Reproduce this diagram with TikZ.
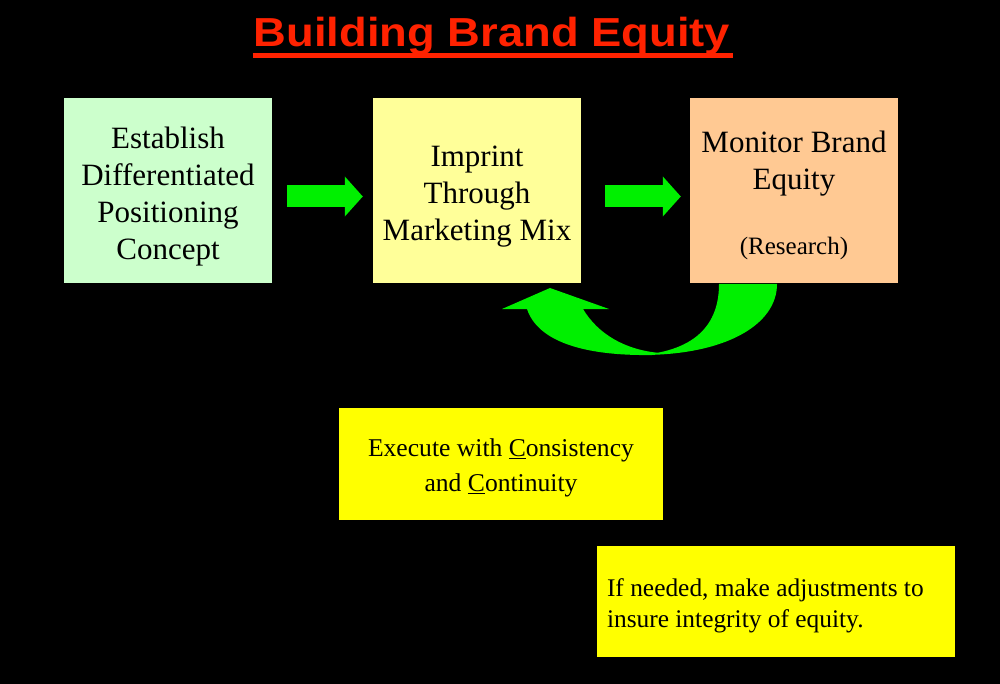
\documentclass[tikz,border=0pt]{standalone}
\usepackage{graphicx}
\usepackage{fontspec}
\setmainfont{Liberation Serif}
\newfontfamily\titlefont{Liberation Sans}
\usetikzlibrary{arrows.meta,calc}
\definecolor{boxgreen}{HTML}{CCFFCC}
\definecolor{boxlyellow}{HTML}{FFFF99}
\definecolor{boxpeach}{HTML}{FFC993}
\definecolor{boxyellow}{HTML}{FFFF00}
\definecolor{arrowgreen}{HTML}{00F000}
\definecolor{titlered}{HTML}{FF2200}
\tikzset{
  bigbox/.style={minimum width=208pt, minimum height=185pt, inner sep=0pt},
  bigtext/.style={inner sep=0pt, align=center, font=\fontsize{31}{37}\selectfont, text=black},
  notetext/.style={inner sep=0pt, font=\fontsize{25.6}{35}\selectfont, text=black},
  blockarrow/.style={draw=arrowgreen, line width=22pt, -{Triangle[length=18pt,width=39pt]}, arrowgreen},
}
\begin{document}
\frenchspacing
\begin{tikzpicture}[x=1pt,y=-1pt]
\fill[black] (0,0) rectangle (1000,684);
\useasboundingbox (0,0) rectangle (1000,684);
% title
\node[anchor=base, inner sep=0pt, text=titlered, font=\titlefont\bfseries\fontsize{40.5}{48}\selectfont] (title) at (492,46.7) {\scalebox{1.12}[1]{Building Brand Equity}};
\draw[titlered, line width=4.5pt] ($(title.base west)+(-1,8.8)$) -- ($(title.base east)+(3,8.8)$);
% boxes
\node[bigbox, fill=boxgreen] (b1) at (168,190.5) {};
\node[bigtext] (t1) at ($(b1.center)+(0,6)$) {Establish\\Differentiated\\Positioning\\Concept};
\node[bigbox, fill=boxlyellow] (b2) at (477,190.5) {};
\node[bigtext] (t2) at ($(b2.center)+(0,6)$) {Imprint\\Through\\Marketing Mix};
\node[bigbox, fill=boxpeach] (b3) at (794,190.5) {};
\node[bigtext] (t3) at ($(b3.center)+(0,5)$) {Monitor Brand\\Equity\\[28pt]{\fontsize{25}{30}\selectfont(Research)}};
\node[fill=boxyellow, minimum width=324pt, minimum height=112pt, inner sep=0pt] (b4) at (501,464) {};
\node[notetext, align=center] (t4) at ($(b4.center)+(0,4)$)
  {Execute with \underline{C}onsistency\\and \underline{C}ontinuity};
\node[fill=boxyellow, minimum width=358pt, minimum height=111pt, inner sep=0pt] (b5) at (776,601.5) {};
\node[notetext, align=left, anchor=west, font=\fontsize{25.4}{30.5}\selectfont] (t5) at ($(b5.west)+(10,4.5)$)
  {If needed, make adjustments to\\insure integrity of equity.};
% straight block arrows
\draw[blockarrow] ($(b1.east)+(15,6)$) -- ($(b2.west)+(-10,6)$);
\draw[blockarrow] ($(b2.east)+(24,6)$) -- ($(b3.west)+(-9,6)$);
% curved feedback arrow
\fill[arrowgreen] (719,284) -- (777,284) .. controls (777,325) and (725,355) .. (642,355)
  .. controls (695,350) and (719,325) .. (719,284) -- cycle;
\fill[arrowgreen] (652,355) .. controls (585,356) and (538,342) .. (527,309) -- (502,309) -- (550,288)
  -- (609,309) -- (583,309) .. controls (598,334) and (625,350) .. (660,353) -- cycle;
\end{tikzpicture}
\end{document}
